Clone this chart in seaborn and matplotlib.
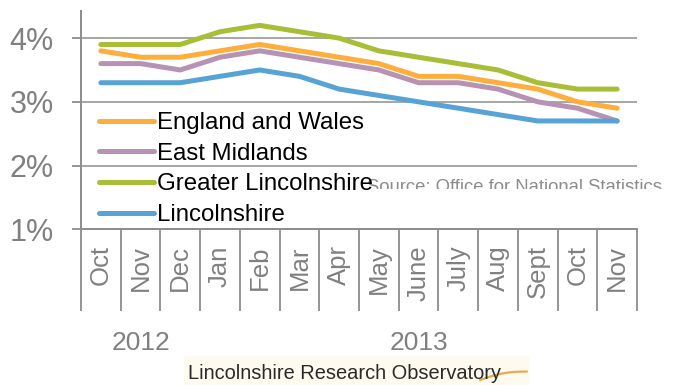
import numpy as np
import pandas as pd
import matplotlib
matplotlib.use("Agg")
import matplotlib.pyplot as plt
import seaborn as sns
from matplotlib.transforms import Bbox, TransformedBbox
from matplotlib.patches import Rectangle
from matplotlib.lines import Line2D

# ---- data ----
months = ["Oct", "Nov", "Dec", "Jan", "Feb", "Mar", "Apr", "May", "June",
          "July", "Aug", "Sept", "Oct", "Nov"]
years = ["2012", "2013"]
year_counts = [3, 11]
england_wales = [3.8, 3.7, 3.7, 3.8, 3.9, 3.8, 3.7, 3.6, 3.4, 3.4, 3.3, 3.2, 3.0, 2.9]
east_midlands = [3.6, 3.6, 3.5, 3.7, 3.8, 3.7, 3.6, 3.5, 3.3, 3.3, 3.2, 3.0, 2.9, 2.7]
greater_lincs = [3.9, 3.9, 3.9, 4.1, 4.2, 4.1, 4.0, 3.8, 3.7, 3.6, 3.5, 3.3, 3.2, 3.2]
lincolnshire = [3.3, 3.3, 3.3, 3.4, 3.5, 3.4, 3.2, 3.1, 3.0, 2.9, 2.8, 2.7, 2.7, 2.7]
series_names = ["England and Wales", "East Midlands", "Greater Lincolnshire", "Lincolnshire"]
series_values = [england_wales, east_midlands, greater_lincs, lincolnshire]
colors = ["#FDAE3B", "#B692B4", "#AABD36", "#58A3D6"]
yticks = [1, 2, 3, 4]
source_text = "Source: Office for National Statistics"
logo_text = "Lincolnshire Research Observatory"

rows = []
for name, vals in zip(series_names, series_values):
    for i, v in enumerate(vals):
        rows.append({"idx": i, "value": v, "series": name})
df = pd.DataFrame(rows)

sns.set_theme(style="white")
plt.rcParams["font.family"] = ["Liberation Sans", "DejaVu Sans"]

W, H = 673, 385
fig = plt.figure(figsize=(W / 100, H / 100), dpi=100)
ax = fig.add_axes([81 / W, 1 - 229.3 / H, (637 - 81) / W, (229.3 - 10.7) / H])

sns.lineplot(data=df, x="idx", y="value", hue="series", hue_order=series_names,
             palette=colors, linewidth=3.6, ax=ax, solid_capstyle="round",
             legend=False, sort=False)

n = len(months)
ax.set_xlim(-0.5, n - 0.5)
ax.set_ylim(1, 4.43)

grid_col = "#A6A6A6"
axis_col = "#8C8C8C"
label_col = "#808080"

# y axis
ax.set_yticks(yticks)
ax.set_yticklabels([f"{t}%" for t in yticks], fontsize=22, color=label_col)
ax.tick_params(axis="y", length=6.5, width=1.3, color=axis_col, pad=13, left=True)
for t in yticks[1:]:
    ax.axhline(t, color=grid_col, lw=1.4, zorder=0)

for s in ["top", "right"]:
    ax.spines[s].set_visible(False)
ax.spines["left"].set_color(axis_col)
ax.spines["left"].set_linewidth(1.4)
ax.spines["bottom"].set_color(axis_col)
ax.spines["bottom"].set_linewidth(1.4)

# x axis: category separators
bounds = np.arange(n + 1) - 0.5
ax.set_xticks(bounds)
ax.set_xticklabels([""] * len(bounds))
ax.tick_params(axis="x", which="major", length=59, width=1.3, color=axis_col,
               bottom=True, direction="out")
ybounds = [-0.5] + list(np.cumsum(year_counts) - 0.5)
ax.set_xticks(ybounds, minor=True)
ax.tick_params(axis="x", which="minor", length=92.5, width=1.3, color=axis_col,
               bottom=True, direction="out")
ax.set_xlabel("")
ax.set_ylabel("")

for i, m in enumerate(months):
    ax.annotate(m, xy=(i, 0), xycoords=("data", "axes fraction"),
                xytext=(0, -11.5), textcoords="offset points",
                rotation=90, ha="center", va="top", fontsize=18.5, color=label_col)

start = 0
for yname, cnt in zip(years, year_counts):
    center = start + (cnt - 1) / 2
    ax.annotate(yname, xy=(center, 0), xycoords=("data", "axes fraction"),
                xytext=(0, -82), textcoords="offset points",
                ha="center", va="center", fontsize=19, color=label_col)
    start += cnt

# legend
handles = [Line2D([0], [0], color=c, lw=3.6, solid_capstyle="round") for c in colors]
leg = fig.legend(handles, series_names, loc="upper left",
                 bbox_to_anchor=(99 / W, 1 - 112 / H), bbox_transform=fig.transFigure,
                 frameon=False, fontsize=17.3, handlelength=2.3, handletextpad=0.12,
                 labelspacing=0.36, borderpad=0, borderaxespad=0)
for t in leg.get_texts():
    t.set_color("black")

# source (clipped at bottom as in reference)
src = fig.text(367 / W, 1 - 192 / H, source_text, fontsize=13.3, color="#8C8C8C",
               va="baseline", ha="left")
src.set_clip_box(TransformedBbox(Bbox([[0, 1 - 189 / H], [1, 1]]), fig.transFigure))
src.set_clip_on(True)

# logo
fig.patches.append(Rectangle((184 / W, 0), 346 / W, 29 / H, transform=fig.transFigure,
                             facecolor="#FDFAF0", edgecolor="none", zorder=0))
xs = np.linspace(480, 527, 30)
ys = 380 - (xs - 480) * 0.18 - 2.5 * np.sin((xs - 480) / 47 * np.pi)
fig.lines.append(Line2D(xs / W, 1 - ys / H, transform=fig.transFigure,
                        color="#E9A23B", lw=1.6, alpha=0.9))
fig.text(188 / W, 1 - 379 / H, logo_text, fontsize=14.4, color="#2A2A2A",
         va="baseline", ha="left")

fig.savefig("out.png", dpi=100)
